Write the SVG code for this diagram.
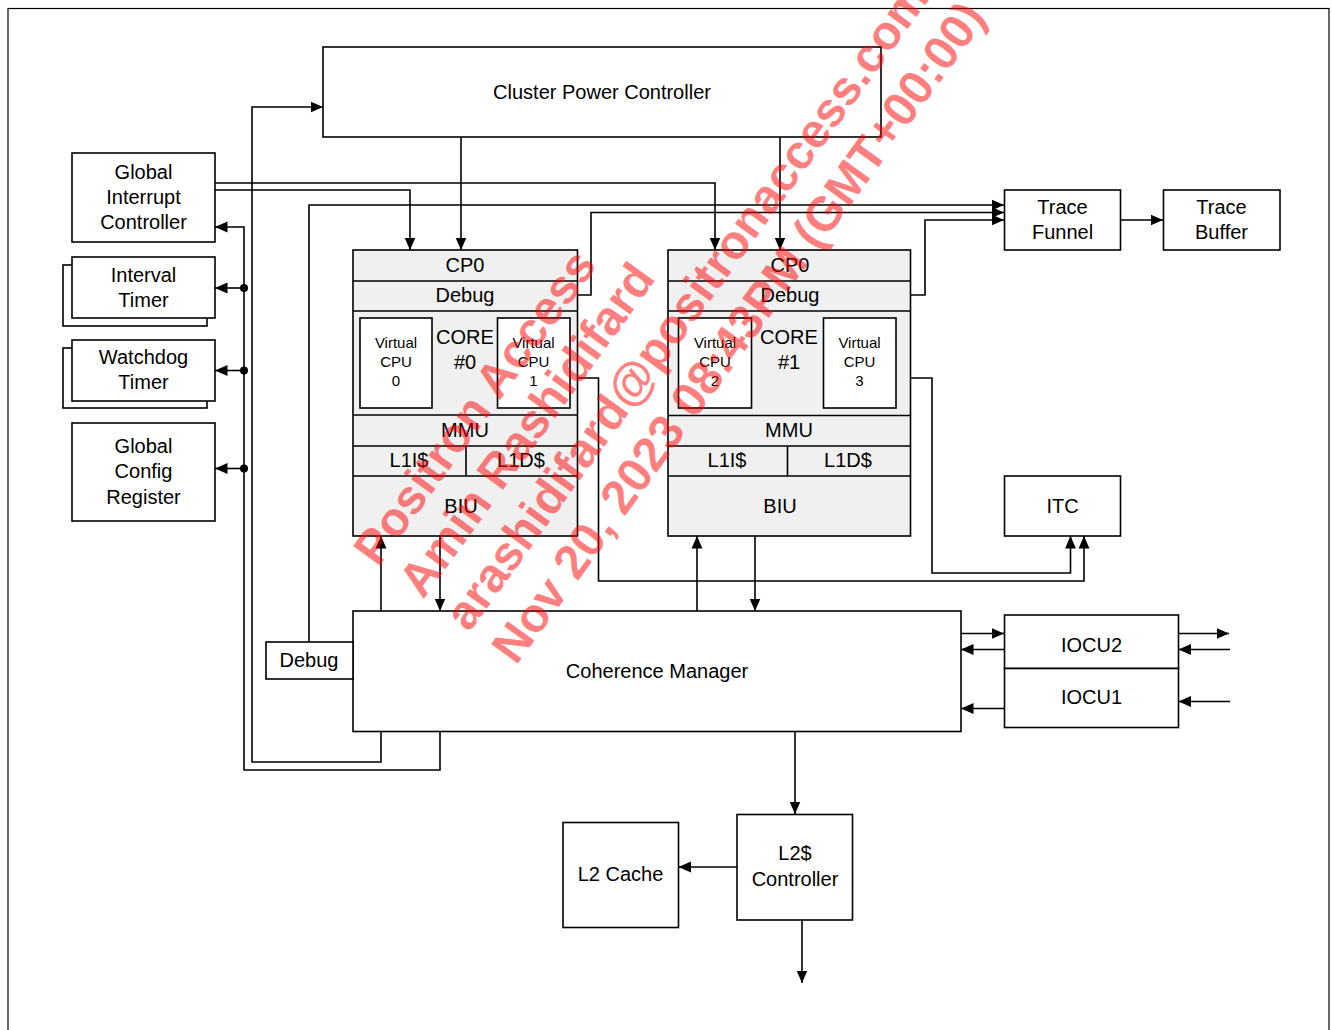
<svg xmlns="http://www.w3.org/2000/svg" width="1332" height="1030" viewBox="0 0 1332 1030">
<style>
text{font-family:"Liberation Sans",Arial,sans-serif;fill:#000;text-anchor:middle}
.t20{font-size:20px}
.t15{font-size:15px}
.box{fill:#fff;stroke:#000;stroke-width:1.6}
.core{fill:#f0f0f0;stroke:#000;stroke-width:1.6}
.ln{fill:none;stroke:#000;stroke-width:1.6}
.a{fill:none;stroke:#000;stroke-width:1.6;marker-end:url(#ah)}
.wm{font-family:"Liberation Sans",Arial,sans-serif;font-size:48px;font-weight:bold;fill:#ff0000;fill-opacity:0.5;text-anchor:start}
</style>
<defs>
<marker id="ah" markerUnits="userSpaceOnUse" markerWidth="14" markerHeight="14" refX="12.5" refY="7" orient="auto">
<path d="M0,1.5 L12.5,7 L0,12.5 z" fill="#000"/>
</marker>
</defs>
<rect x="0" y="0" width="1332" height="1030" fill="#fff"/>
<rect x="8" y="8.5" width="1321" height="1040" fill="none" stroke="#000" stroke-width="1.2"/>

<g id="cpc"><rect class="box" x="323" y="47" width="558" height="90"/><text class="t20" x="602" y="99">Cluster Power Controller</text></g>

<g id="gic"><rect class="box" x="72" y="153" width="143" height="89"/><text class="t20" x="143.5" y="179">Global</text><text class="t20" x="143.5" y="204">Interrupt</text><text class="t20" x="143.5" y="229">Controller</text></g>

<g id="interval-timer"><rect class="box" x="63" y="265" width="144" height="61"/><rect class="box" x="72" y="257" width="143" height="61"/><text class="t20" x="143.5" y="282">Interval</text><text class="t20" x="143.5" y="307">Timer</text></g>

<g id="watchdog-timer"><rect class="box" x="63" y="348" width="144" height="60"/><rect class="box" x="72" y="340" width="143" height="61"/><text class="t20" x="143.5" y="364">Watchdog</text><text class="t20" x="143.5" y="389">Timer</text></g>

<g id="gcr"><rect class="box" x="72" y="423" width="143" height="98"/><text class="t20" x="143.5" y="453">Global</text><text class="t20" x="143.5" y="478">Config</text><text class="t20" x="143.5" y="504">Register</text></g>

<g id="core0">
<rect class="core" x="353" y="250" width="224.5" height="286"/>
<line class="ln" x1="353" y1="281" x2="577.5" y2="281"/>
<line class="ln" x1="353" y1="311" x2="577.5" y2="311"/>
<line class="ln" x1="353" y1="415" x2="577.5" y2="415"/>
<line class="ln" x1="353" y1="446" x2="577.5" y2="446"/>
<line class="ln" x1="353" y1="476" x2="577.5" y2="476"/>
<line class="ln" x1="466" y1="446" x2="466" y2="476"/>
<rect class="box" x="360" y="318" width="72" height="90"/>
<rect class="box" x="497.5" y="318" width="72.5" height="90"/>
<text class="t20" x="465" y="272">CP0</text>
<text class="t20" x="465" y="302">Debug</text>
<text class="t20" x="465" y="344">CORE</text>
<text class="t20" x="465" y="369">#0</text>
<text class="t15" x="396" y="348">Virtual</text><text class="t15" x="396" y="367">CPU</text><text class="t15" x="396" y="386">0</text>
<text class="t15" x="533.5" y="348">Virtual</text><text class="t15" x="533.5" y="367">CPU</text><text class="t15" x="533.5" y="386">1</text>
<text class="t20" x="465" y="437">MMU</text>
<text class="t20" x="409" y="467">L1I$</text>
<text class="t20" x="521" y="467">L1D$</text>
<text class="t20" x="461" y="513">BIU</text>
</g>

<g id="core1">
<rect class="core" x="668" y="250" width="242.5" height="286"/>
<line class="ln" x1="668" y1="281" x2="910.5" y2="281"/>
<line class="ln" x1="668" y1="311" x2="910.5" y2="311"/>
<line class="ln" x1="668" y1="415.5" x2="910.5" y2="415.5"/>
<line class="ln" x1="668" y1="446" x2="910.5" y2="446"/>
<line class="ln" x1="668" y1="476" x2="910.5" y2="476"/>
<line class="ln" x1="787.5" y1="446" x2="787.5" y2="476"/>
<rect class="box" x="678.5" y="318" width="73" height="90"/>
<rect class="box" x="823.5" y="318" width="72.5" height="90"/>
<text class="t20" x="790" y="272">CP0</text>
<text class="t20" x="790" y="302">Debug</text>
<text class="t20" x="789" y="344">CORE</text>
<text class="t20" x="789" y="369">#1</text>
<text class="t15" x="715" y="348">Virtual</text><text class="t15" x="715" y="367">CPU</text><text class="t15" x="715" y="386">2</text>
<text class="t15" x="859.5" y="348">Virtual</text><text class="t15" x="859.5" y="367">CPU</text><text class="t15" x="859.5" y="386">3</text>
<text class="t20" x="789" y="437">MMU</text>
<text class="t20" x="727" y="467">L1I$</text>
<text class="t20" x="848" y="467">L1D$</text>
<text class="t20" x="780" y="513">BIU</text>
</g>

<g id="trace-funnel"><rect class="box" x="1004.5" y="190" width="116" height="60"/><text class="t20" x="1062.5" y="214">Trace</text><text class="t20" x="1062.5" y="239">Funnel</text></g>
<g id="trace-buffer"><rect class="box" x="1163.5" y="190" width="116.5" height="60"/><text class="t20" x="1221.5" y="214">Trace</text><text class="t20" x="1221.5" y="239">Buffer</text></g>
<g id="itc"><rect class="box" x="1004.5" y="476" width="116" height="60"/><text class="t20" x="1062.5" y="513">ITC</text></g>

<g id="coherence-manager"><rect class="box" x="353" y="611" width="608" height="120.5"/><text class="t20" x="657" y="678">Coherence Manager</text></g>
<g id="debug"><rect class="box" x="266" y="642" width="87" height="37"/><text class="t20" x="309" y="667">Debug</text></g>

<g id="iocu2"><rect class="box" x="1004.5" y="615" width="174" height="53.5"/><text class="t20" x="1091.5" y="652">IOCU2</text></g>
<g id="iocu1"><rect class="box" x="1004.5" y="668.5" width="174" height="59"/><text class="t20" x="1091.5" y="704">IOCU1</text></g>

<g id="l2-cache"><rect class="box" x="563" y="822.5" width="115.5" height="105"/><text class="t20" x="620.5" y="881">L2 Cache</text></g>
<g id="l2-controller"><rect class="box" x="737" y="814.5" width="115.5" height="105.5"/><text class="t20" x="795" y="860">L2$</text><text class="t20" x="795" y="886">Controller</text></g>

<g id="connectors">
<path class="a" d="M461,137 V250"/>
<path class="a" d="M780,137 V250"/>
<path class="a" d="M215,183 H715 V250"/>
<path class="a" d="M215,190 H410 V250"/>
<path class="a" d="M309,642 V205 H1004"/>
<path class="a" d="M577.5,295 H591 V212.5 H1004"/>
<path class="a" d="M910.5,295 H925 V220 H1004"/>
<path class="a" d="M1120.5,220 H1163"/>
<path class="a" d="M381,731.5 V762 H252 V107 H323"/>
<path class="a" d="M440,731.5 V770 H244 V227 H215"/>
<path class="a" d="M244,288 H215"/>
<path class="a" d="M244,370.5 H215"/>
<path class="a" d="M244,468.5 H215"/>
<circle cx="244" cy="288" r="4" fill="#000"/>
<circle cx="244" cy="370.5" r="4" fill="#000"/>
<circle cx="244" cy="468.5" r="4" fill="#000"/>
<path class="a" d="M577.5,378 H598.5 V581 H1084 V536"/>
<path class="a" d="M910.5,378 H932 V573 H1070.5 V536"/>
<path class="a" d="M381,611 V536"/>
<path class="a" d="M440,536 V611"/>
<path class="a" d="M697,611 V536"/>
<path class="a" d="M755,536 V611"/>
<path class="a" d="M961,633.5 H1004"/>
<path class="a" d="M1004.5,649.5 H961"/>
<path class="a" d="M1004.5,708.5 H961"/>
<path class="a" d="M1178.5,633.5 H1229"/>
<path class="a" d="M1230,649.5 H1178.5"/>
<path class="a" d="M1230,701.5 H1178.5"/>
<path class="a" d="M795,731.5 V814"/>
<path class="a" d="M737,867 H678.5"/>
<path class="a" d="M802,920 V983"/>
</g>

<g id="watermark">
<text class="wm" transform="translate(378,568) rotate(-54)">Positron Access</text>
<text class="wm" transform="translate(423,600) rotate(-54)">Amin Rashidifard</text>
<text class="wm" transform="translate(469,633) rotate(-54)">arashidifard@positronaccess.com</text>
<text class="wm" transform="translate(516,666) rotate(-54)">Nov 20, 2023 08:43PM (GMT+00:00)</text>
</g>
</svg>
